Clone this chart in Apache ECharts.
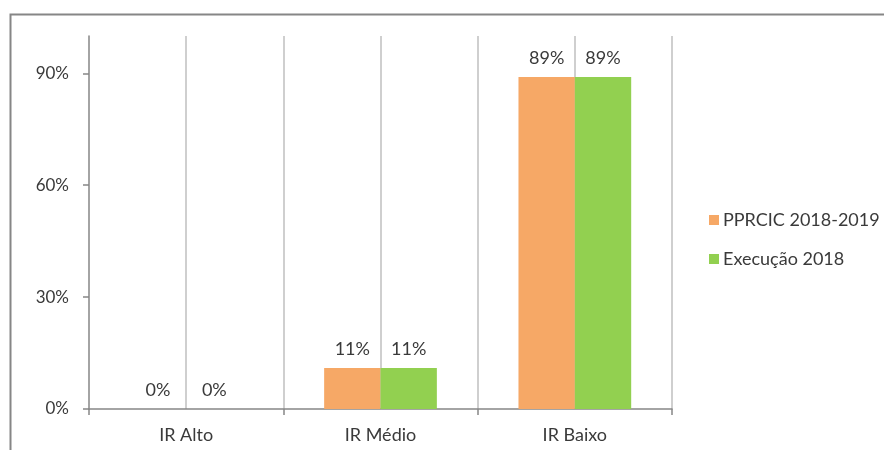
<!DOCTYPE html>
<html>
<head>
<meta charset="utf-8">
<script src="https://cdn.jsdelivr.net/npm/echarts@6/dist/echarts.min.js"></script>
<style>html,body{margin:0;padding:0;background:#fff}#c{width:884px;height:450px}</style>
</head>
<body>
<div id="c"></div>
<script>
const categories = ['IR Alto', 'IR Médio', 'IR Baixo'];
const seriesNames = ['PPRCIC 2018-2019', 'Execução 2018'];
const pprcic = [0, 11, 89];
const execucao = [0, 11, 89];
const yTicks = [0, 30, 60, 90];

const chart = echarts.init(document.getElementById('c'), null, {renderer: 'canvas'});
const font = 'Lato, "Open Sans", sans-serif';
const txt = '#3a3a3a';
const gridCats = ['', '', '', '', '', '', ''];

chart.setOption({
  animation: false,
  backgroundColor: '#fff',
  textStyle: {fontFamily: font},
  graphic: [{
    type: 'rect',
    left: 8, top: 12,
    shape: {width: 900, height: 460},
    style: {fill: 'none', stroke: '#868686', lineWidth: 2},
    silent: true
  }],
  grid: {left: 89, right: 212, top: 36, bottom: 41, containLabel: false},
  legend: {
    orient: 'vertical',
    left: 704, top: 206,
    itemWidth: 10, itemHeight: 10, itemGap: 21,
    icon: 'rect',
    textStyle: {fontSize: 18, color: txt, fontFamily: font, padding: [0, 0, 0, -1]},
    data: seriesNames
  },
  xAxis: [{
    type: 'category',
    data: categories,
    boundaryGap: true,
    axisLine: {lineStyle: {color: '#868686', width: 1.5}},
    axisTick: {show: true, length: 6, lineStyle: {color: '#868686', width: 1.5}},
    axisLabel: {fontSize: 18, color: txt, margin: 17, fontFamily: font},
    splitLine: {show: false}
  }, {
    type: 'category',
    data: gridCats,
    boundaryGap: false,
    position: 'top',
    axisLine: {show: false},
    axisTick: {show: false},
    axisLabel: {show: false},
    splitLine: {show: true, interval: function (i) { return i > 0; }, lineStyle: {color: '#BFBFBF', width: 1.5}}
  }],
  yAxis: {
    type: 'value',
    min: 0, max: 100,
    axisLine: {show: true, lineStyle: {color: '#868686', width: 1.5}},
    axisTick: {show: true, length: 6, customValues: yTicks, lineStyle: {color: '#868686', width: 1.5}},
    axisLabel: {fontSize: 17, color: txt, margin: 20, customValues: yTicks, formatter: v => v + '%', fontFamily: font},
    splitLine: {show: false}
  },
  series: [{
    name: seriesNames[0],
    type: 'bar',
    data: pprcic,
    barGap: '0%',
    barCategoryGap: '42%',
    itemStyle: {color: '#F6A866'},
    label: {show: true, position: 'top', distance: 10, fontSize: 18, color: txt, formatter: p => p.value + '%', fontFamily: font},
    z: 3
  }, {
    name: seriesNames[1],
    type: 'bar',
    data: execucao,
    barGap: '0%',
    barCategoryGap: '42%',
    itemStyle: {color: '#92D050'},
    label: {show: true, position: 'top', distance: 10, fontSize: 18, color: txt, formatter: p => p.value + '%', fontFamily: font},
    z: 3
  }]
});
</script>
</body>
</html>
